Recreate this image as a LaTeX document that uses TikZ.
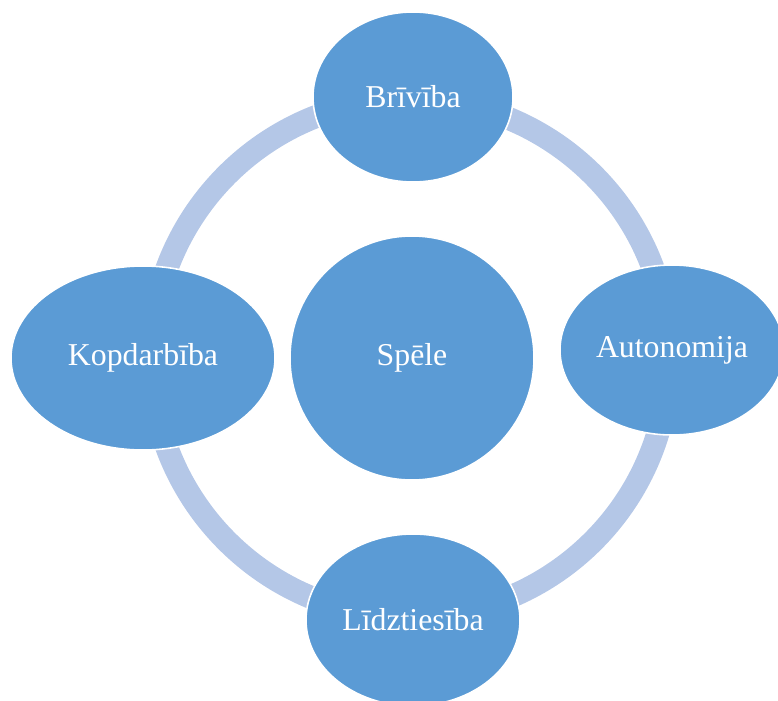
\documentclass[tikz,border=0pt]{standalone}
\usepackage{fontspec}
\setmainfont{Liberation Serif}
\definecolor{gameblue}{RGB}{91, 155, 213}
\definecolor{ringblue}{RGB}{180, 199, 231}
\usetikzlibrary{shapes.geometric}

\begin{document}
\begin{tikzpicture}[
  value/.style={draw=white, line width=0.9pt, ellipse, fill=gameblue, text=white, inner sep=0pt, font=\fontsize{18.1}{20}\selectfont},
  ring/.style={draw=ringblue, line width=0.46cm}
]
\clip (0,0) rectangle (15.56,-14);
\coordinate (mid) at (8.2,-7.16);
\draw[ring] (mid) circle (5.18);
\node[value, circle, minimum size=4.88cm] (game) at (8.24,-7.16) {Spēle};
\node[value, minimum width=4.0cm, minimum height=3.4cm] (freedom) at (8.26,-1.94) {Brīvība};
\node[value, minimum width=5.28cm, minimum height=3.68cm] (together) at (2.86,-7.16) {Kopdarbība};
\node[value, minimum width=4.48cm, minimum height=3.4cm] (autonomy) at (13.44,-7.0) {Autonomija};
\node[value, minimum width=4.28cm, minimum height=3.44cm] (equality) at (8.26,-12.4) {Līdztiesība};
\end{tikzpicture}
\end{document}
